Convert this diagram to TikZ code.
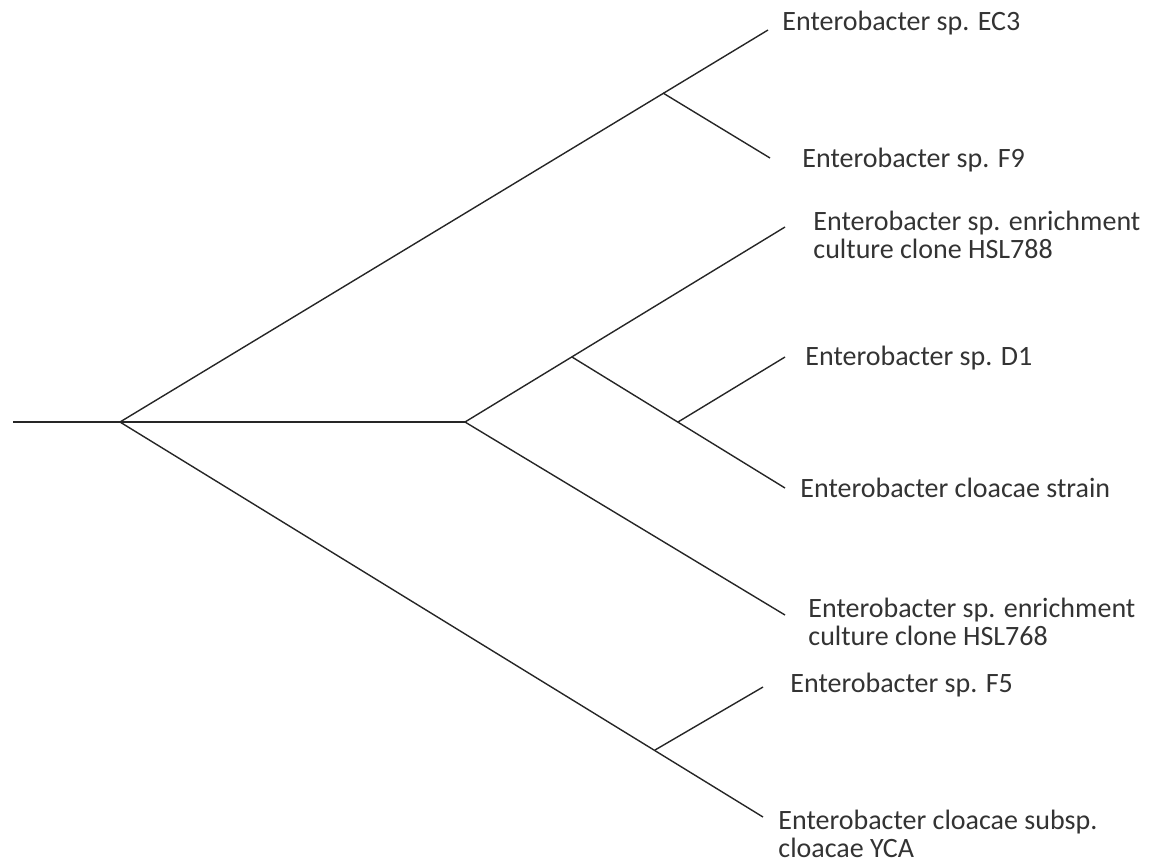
\documentclass[tikz,border=0pt]{standalone}
\usepackage{fontspec}
\setmainfont{Carlito}
\usepackage{tikz}
\usetikzlibrary{positioning}

\begin{document}
\begin{tikzpicture}[x=0.5pt, y=-0.5pt,
  branch/.style={draw=black!85, line width=0.7pt},
  leaf/.style={anchor=west, inner sep=0pt, text=black!80, align=left,
    font=\fontsize{14}{13.8}\selectfont}]

\useasboundingbox (0,0) rectangle (1155,864);

% inner points of the tree
\coordinate (r0) at (13,422);
\coordinate (n1) at (120,422);
\coordinate (n2) at (465,422);
\coordinate (n3) at (663,93);
\coordinate (n4) at (572,357);
\coordinate (n5) at (678,422);
\coordinate (n6) at (655,750);

% branch tips
\coordinate (tEC) at (768,30);
\coordinate (tF9) at (770,158);
\coordinate (tHa) at (785,227);
\coordinate (tD1) at (785,357);
\coordinate (tCs) at (785,488);
\coordinate (tHb) at (785,615);
\coordinate (tF5) at (763,687);
\coordinate (tYC) at (763,817);

% labels
\node[leaf] (EC) at (782,23) {Enterobacter sp. EC3};
\node[leaf] (F9) at (802,160) {Enterobacter sp. F9};
\node[leaf] (Ha) at (813,235) {Enterobacter sp. enrichment\\culture clone HSL788};
\node[leaf] (D1) at (805,358) {Enterobacter sp. D1};
\node[leaf] (Cs) at (800,488) {Enterobacter cloacae strain};
\node[leaf] (Hb) at (808,622) {Enterobacter sp. enrichment\\culture clone HSL768};
\node[leaf] (F5) at (790,685) {Enterobacter sp. F5};
\node[leaf] (YC) at (778,834) {Enterobacter cloacae subsp.\\cloacae YCA};

\path[branch]
(r0) edge[line width=1pt] (n1)
(n1) edge (n2)
(n1) edge (tEC)
(n3) edge (tF9)
(n2) edge (tHa)
(n4) edge (tCs)
(n5) edge (tD1)
(n2) edge (tHb)
(n1) edge (tYC)
(n6) edge (tF5)
;
\end{tikzpicture}
\end{document}
